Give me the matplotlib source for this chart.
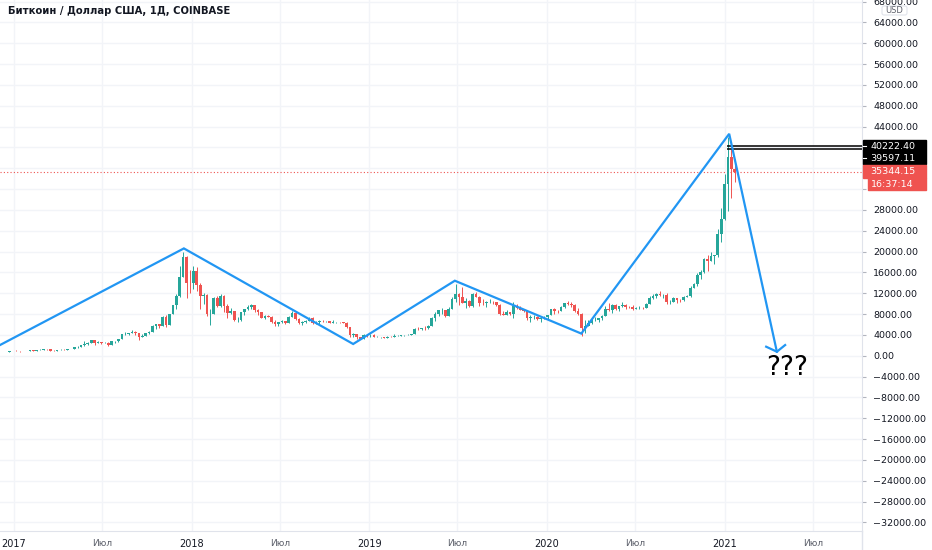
import numpy as np
import pandas as pd
import matplotlib
matplotlib.use("Agg")
import matplotlib.pyplot as plt
import matplotlib.dates as mdates
from matplotlib.patches import Rectangle, FancyBboxPatch
from matplotlib.lines import Line2D
from matplotlib.transforms import IdentityTransform

# weekly BTC/USD candles (weeks start on Monday)
first_week = "2016-12-05"
first_open = 765
closes = [
    775, 790, 895, 998,
    # 2017
    905, 820, 920, 915, 1010, 995, 1055, 1150, 1270, 1230, 970, 960, 1080,
    1190, 1170, 1230, 1350, 1580, 1760, 2050, 2200, 2520, 2950, 2520, 2580,
    2480, 2520, 1980, 2750, 2750, 3260, 4100, 4100, 4380, 4580, 4320, 3670,
    3790, 4390, 4610, 5700, 6000, 5750, 7380, 5900, 8000, 9700, 11400, 15200,
    19000, 14000, 13900,
    # 2018
    16200, 13600, 11500, 11600, 8100, 8100, 11000, 9600, 11400, 9500, 8200,
    8500, 6900, 6900, 8300, 8900, 9300, 9700, 8700, 8400, 7300, 7700, 7500,
    6500, 6100, 6400, 6750, 6350, 7400, 8200, 7000, 6300, 6400, 6700, 7200,
    6200, 6500, 6700, 6600, 6600, 6300, 6400, 6450, 6400, 6350, 5600, 4000,
    4150, 3600, 3250, 4000, 3900,
    # 2019
    4050, 3550, 3550, 3550, 3450, 3680, 3650, 3850, 3850, 3950, 4000, 4000,
    4150, 5100, 5050, 5300, 5250, 5700, 7200, 8000, 8700, 8700, 7650, 8950,
    10800, 11900, 11300, 10200, 10600, 9500, 11800, 11300, 10200, 10100,
    10400, 10400, 10300, 9700, 8050, 7850, 8300, 7950, 9500, 9200, 8800, 8500,
    7300, 7400, 7500, 7050, 7150, 7400,
    # 2020
    7800, 8900, 8650, 8600, 9350, 10150, 9900, 9700, 8550, 8000, 5350, 5800,
    6250, 6800, 6900, 7150, 7700, 8900, 8750, 9700, 8900, 9450, 9650, 9350,
    9300, 9000, 9080, 9250, 9200, 9950, 11050, 11550, 11900, 11650, 11700,
    10250, 10350, 11050, 10750, 10650, 11350, 11400, 13050, 13800, 15500,
    16050, 18650, 18150, 19150, 19250, 23450, 26300, 33000,
    # 2021
    38200, 35800, 35344.15,
]
highs = [
    780, 795, 930, 1000,
    1150, 910, 935, 930, 1040, 1070, 1060, 1200, 1290, 1330, 1250, 1060, 1100,
    1200, 1200, 1250, 1360, 1600, 1810, 2100, 2760, 2550, 2990, 2980, 2790,
    2600, 2700, 2550, 2900, 2800, 3300, 4200, 4480, 4400, 4980, 4700, 4400,
    4100, 4420, 4650, 5850, 6180, 6150, 7600, 7880, 8050, 9800, 11800, 17200,
    19900, 19200, 16500,
    17200, 17100, 14000, 12000, 11900, 9000, 11200, 11400, 11800, 11600, 9900,
    9100, 8500, 7500, 8400, 9000, 9750, 9950, 9700, 8900, 8400, 7800, 7800,
    7600, 6800, 6500, 6800, 6750, 7600, 8500, 8200, 7150, 6600, 6800, 7400,
    7400, 6600, 6800, 6800, 6700, 6650, 6800, 6550, 6500, 6550, 6450, 5600,
    4400, 4200, 3600, 4200, 4200,
    4100, 4100, 3750, 3600, 3550, 3700, 3700, 4200, 3900, 3950, 4050, 4100,
    4200, 5300, 5450, 5350, 5650, 5900, 7450, 8300, 8800, 9100, 8700, 9300,
    11200, 13800, 12000, 13100, 11000, 10650, 12000, 12300, 11500, 10900,
    10500, 10900, 10450, 10300, 10000, 8500, 8800, 8400, 10400, 9900, 9500,
    8850, 8500, 7850, 7800, 7650, 7500, 7650,
    7900, 8950, 9200, 8700, 9600, 10200, 10500, 10250, 9950, 9200, 8200, 6950,
    6900, 7300, 7450, 7300, 7750, 9450, 10050, 9950, 9850, 9600, 10400, 9950,
    9600, 9800, 9300, 9450, 9300, 10100, 11450, 11800, 12100, 12450, 11800,
    12100, 10650, 11200, 10950, 10950, 11500, 11700, 13300, 14050, 15950,
    16450, 18800, 19400, 19900, 19400, 24300, 28400, 34800,
    41950, 40100, 37850,
]
lows = [
    750, 765, 790, 880,
    870, 750, 820, 880, 910, 940, 980, 1050, 1150, 1100, 950, 890, 950, 1070,
    1150, 1160, 1230, 1340, 1550, 1700, 1900, 2150, 2500, 2100, 2450, 2320,
    2430, 1850, 1970, 2480, 2700, 3250, 3950, 3980, 4300, 4000, 2980, 3550,
    3850, 4200, 4600, 5100, 5400, 5980, 5500, 5950, 7950, 9000, 11200, 15200,
    11000, 12000,
    12800, 12500, 9000, 10000, 7600, 5900, 8000, 9300, 9400, 8400, 7300, 8100,
    6600, 6400, 6600, 7900, 8700, 9000, 8300, 7900, 7200, 7000, 7400, 6300,
    5750, 5800, 6300, 6100, 6300, 7400, 6900, 6000, 5900, 6250, 6700, 6100,
    6150, 6150, 6450, 6450, 6200, 6250, 6350, 6250, 6300, 5300, 3600, 3550,
    3300, 3200, 3250, 3550,
    3650, 3500, 3500, 3450, 3380, 3350, 3550, 3650, 3750, 3700, 3850, 3950,
    3950, 4100, 4950, 5000, 5000, 5150, 5700, 6600, 7600, 8100, 7450, 7600,
    8950, 10300, 9700, 10100, 9100, 9300, 9400, 11200, 9500, 9800, 9350,
    10200, 9950, 9600, 7800, 7750, 7800, 7900, 7300, 8900, 8700, 8400, 6800,
    6500, 7100, 6950, 6450, 7050,
    6850, 7750, 8100, 8250, 8550, 9150, 9800, 9300, 8450, 7900, 3850, 4450,
    5700, 6150, 6750, 6500, 6850, 7650, 8600, 8200, 8800, 8650, 9400, 8950,
    9100, 8850, 8950, 9050, 9050, 9150, 9900, 10950, 11150, 11450, 11100,
    9900, 9850, 10250, 10150, 10400, 10550, 11200, 11350, 12950, 13300,
    14800, 15800, 16200, 18100, 17600, 19000, 21800, 26100,
    27700, 30300, 33400,
]

# hand-drawn zigzag and arrow
zigzag_dates = ["2016-12-03", "2017-12-16", "2018-11-29", "2019-06-26",
                "2020-03-12", "2021-01-10", "2021-04-18"]
zigzag_prices = [2050, 20600, 2250, 14400, 4250, 42600, 770]
arrowhead_dates = ["2021-03-27", "2021-04-18", "2021-05-05"]
arrowhead_prices = [1730, 770, 2050]
question_date, question_price = "2021-05-09", -2400

# price marks
level_start = "2021-01-05"
levels = [40222.40, 39597.11]
last_price = 35344.15
countdown = "16:37:14"
title = "Биткоин / Доллар США, 1Д, COINBASE"

x_from, x_to = "2016-12-03", "2021-10-10"
y_from, y_to = -33650, 68290
price_ticks = list(range(-32000, 68001, 4000))
hidden_ticks = [32000, 36000, 40000]   # covered by the price badges
time_ticks = ["2017-01-01", "2017-07-01", "2018-01-01", "2018-07-01",
              "2019-01-01", "2019-07-01", "2020-01-01", "2020-07-01",
              "2021-01-01", "2021-07-01"]
time_labels = ["2017", "Июл", "2018", "Июл", "2019", "Июл", "2020", "Июл",
               "2021", "Июл"]

GREEN, RED, BLUE = "#26a69a", "#ef5350", "#2196f3"
TXT, GRID, SEP = "#131722", "#f2f4f8", "#e0e3eb"

W, H = 932, 550
fig = plt.figure(figsize=(W / 100, H / 100), dpi=100)
ax = fig.add_axes([0, 19 / H, 862 / W, 531 / H])

def d(s):
    return mdates.date2num(np.datetime64(s))

ax.set_xlim(d(x_from), d(x_to))
ax.set_ylim(y_from, y_to)

# candles
closes = np.array(closes, float)
highs = np.array(highs, float)
lows = np.array(lows, float)
opens = np.r_[first_open, closes[:-1]]
weeks = pd.date_range(first_week, periods=len(closes), freq="7D")
xs = mdates.date2num(weeks.to_numpy()) + 3.5
cols = np.where(closes >= opens, GREEN, RED)
ax.vlines(xs, np.minimum(lows, np.minimum(opens, closes)),
          np.maximum(highs, np.maximum(opens, closes)), colors=cols, lw=0.7, zorder=3)
ax.bar(xs, np.abs(closes - opens), bottom=np.minimum(opens, closes), width=5.5,
       color=cols, lw=0, zorder=3)

# grid & axes
ax.set_yticks(price_ticks)
ax.set_yticklabels(["" if v in hidden_ticks else f"{v:.2f}".replace("-", "\u2212")
                    for v in price_ticks])
ax.set_xticks([d(t) for t in time_ticks])
ax.set_xticklabels(time_labels)
ax.yaxis.tick_right()
ax.tick_params(axis="y", length=3, width=0.8, color="#b2b5be", pad=5,
               labelsize=6.8, labelcolor=TXT)
ax.tick_params(axis="x", length=0, pad=6, labelsize=7)
for lab in ax.get_xticklabels():
    if lab.get_text() == "Июл":
        lab.set_color("#5d606b")
        lab.set_fontsize(6.5)
    else:
        lab.set_color(TXT)
ax.grid(True, color=GRID, lw=1, zorder=0)
for s in ["top", "left"]:
    ax.spines[s].set_visible(False)
ax.spines["right"].set_color(SEP)
ax.spines["bottom"].set_color(SEP)
fig.add_artist(Line2D([862 / W, 862 / W], [0, 19 / H], color=SEP, lw=1))

# drawings
ax.plot([d(t) for t in zigzag_dates], zigzag_prices, color=BLUE, lw=1.6,
        zorder=5, solid_joinstyle="miter")
ax.plot([d(t) for t in arrowhead_dates], arrowhead_prices, color=BLUE, lw=1.6,
        zorder=5, solid_joinstyle="miter")
ax.text(d(question_date), question_price, "???", fontsize=19, ha="center",
        va="center", color="black", zorder=6)
ax.hlines(levels, d(level_start), d(x_to), colors="black", lw=1.1, zorder=4)
ax.axhline(last_price, color=RED, lw=0.8, ls=(0, (1, 2)), zorder=2)

fig.text(8 / W, 1 - 11.5 / H, title, fontsize=7.2, fontweight="bold", color=TXT,
         va="center", ha="left")

# price axis badges (drawn in pixel space)
ident = IdentityTransform()
def ypix(v):
    return ax.transData.transform((d(x_from), v))[1]

box_x, box_w = 862.5, 63.5
y1 = ypix(levels[0])
y2 = y1 - 12
fig.add_artist(Rectangle((box_x, y2 - 6.2), box_w, (y1 - y2) + 12.4,
                         transform=ident, color="black", zorder=10))
for yy, v in [(y1, levels[0]), (y2, levels[1])]:
    fig.add_artist(Line2D([862.5, 866], [yy, yy], transform=ident,
                          color="white", lw=0.8, zorder=11))
    fig.text(870.5, yy, f"{v:.2f}", transform=ident, color="white",
             fontsize=6.8, va="center", ha="left", zorder=11)

y3 = ypix(last_price)
y4 = y3 - 12.4
fig.add_artist(Rectangle((box_x, y3 - 6.2), box_w, 12.4, transform=ident,
                         color=RED, zorder=10))
fig.add_artist(Rectangle((868, y4 - 6.2), 926 - 868, 12.4, transform=ident,
                         color=RED, zorder=10))
fig.text(870.5, y3, f"{last_price:.2f}", transform=ident, color="white",
         fontsize=6.8, va="center", ha="left", zorder=11)
fig.text(870.5, y4, countdown, transform=ident, color="white",
         fontsize=6.8, va="center", ha="left", zorder=11)

# currency badge
fig.add_artist(FancyBboxPatch((882, H - 15), 25, 9, boxstyle="round,pad=0,rounding_size=2",
                              transform=ident, facecolor="white", edgecolor=SEP,
                              lw=0.8, zorder=10))
fig.text(894.5, H - 10.5, "USD", transform=ident, color="#5d606b", fontsize=6,
         va="center", ha="center", zorder=11)

fig.savefig("out.png", dpi=100, facecolor="white")
